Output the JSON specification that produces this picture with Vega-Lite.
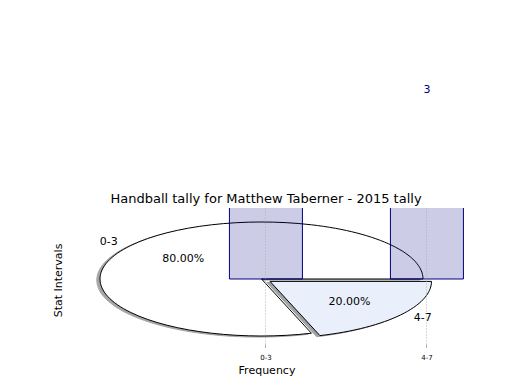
{
  "$schema": "https://vega.github.io/schema/vega-lite/v6.json",
  "width": 403,
  "height": 136,
  "autosize": {"type": "none"},
  "padding": {"left": 65, "top": 208, "right": 52, "bottom": 46},
  "background": "white",
  "config": {"view": {"stroke": null}, "font": "DejaVu Sans"},
  "datasets": {
    "tally": [
      {"interval": "0-3", "count": 12, "pct": "80.00%"},
      {"interval": "4-7", "count": 3, "pct": "20.00%"}
    ]
  },
  "data": {"name": "tally"},
  "layer": [
    {
      "encoding": {
        "x": {"datum": 0, "type": "quantitative", "scale": {"domain": [-1.2167, 1.2786], "nice": false, "zero": false}, "axis": null},
        "y": {"datum": 0, "type": "quantitative", "scale": {"domain": [-1.1404, 1.2456], "nice": false, "zero": false}, "axis": null}
      },
      "layer": [
        {
          "mark": {"type": "point", "filled": true, "size": 104329, "opacity": 0.5, "strokeWidth": 1, "xOffset": -3.2, "yOffset": 1.1},
          "encoding": {
            "shape": {"field": "interval", "type": "nominal", "legend": null, "scale": {"domain": ["0-3", "4-7"], "range": ["M0,0L1,0A1,0.35294,0,1,0,0.30902,0.33567Z", "M0.05263,0.01486L0.36165,0.35053A1,0.35294,0,0,0,1.05263,0.01486Z"]}},
            "fill": {"field": "interval", "type": "nominal", "legend": null, "scale": {"domain": ["0-3", "4-7"], "range": ["#4d4d4d", "#46484c"]}},
            "stroke": {"field": "interval", "type": "nominal", "legend": null, "scale": {"domain": ["0-3", "4-7"], "range": ["#4d4d4d", "#46484c"]}}
          }
        },
        {
          "mark": {"type": "point", "filled": true, "size": 104329, "opacity": 1, "stroke": "#000000", "strokeWidth": 1},
          "encoding": {
            "shape": {"field": "interval", "type": "nominal", "legend": null, "scale": {"domain": ["0-3", "4-7"], "range": ["M0,0L1,0A1,0.35294,0,1,0,0.30902,0.33567Z", "M0.05263,0.01486L0.36165,0.35053A1,0.35294,0,0,0,1.05263,0.01486Z"]}},
            "fill": {"field": "interval", "type": "nominal", "legend": null, "scale": {"domain": ["0-3", "4-7"], "range": ["#ffffff", "#eaf0fb"]}}
          }
        },
        {
          "transform": [{"filter": "datum.interval === '0-3'"}],
          "mark": {"type": "text", "fontSize": 11, "color": "#000000", "align": "right", "baseline": "middle"},
          "encoding": {"x": {"datum": -0.89, "type": "quantitative"}, "y": {"datum": 0.6466, "type": "quantitative"}, "text": {"field": "interval"}}
        },
        {
          "transform": [{"filter": "datum.interval === '0-3'"}],
          "mark": {"type": "text", "fontSize": 11, "color": "#000000", "align": "center", "baseline": "middle"},
          "encoding": {"x": {"datum": -0.4854, "type": "quantitative"}, "y": {"datum": 0.3527, "type": "quantitative"}, "text": {"field": "pct"}}
        },
        {
          "transform": [{"filter": "datum.interval === '4-7'"}],
          "mark": {"type": "text", "fontSize": 11, "color": "#000000", "align": "left", "baseline": "middle"},
          "encoding": {"x": {"datum": 0.9426, "type": "quantitative"}, "y": {"datum": -0.6887, "type": "quantitative"}, "text": {"field": "interval"}}
        },
        {
          "transform": [{"filter": "datum.interval === '4-7'"}],
          "mark": {"type": "text", "fontSize": 11, "color": "#000000", "align": "center", "baseline": "middle"},
          "encoding": {"x": {"datum": 0.545, "type": "quantitative"}, "y": {"datum": -0.3948, "type": "quantitative"}, "text": {"field": "pct"}}
        },
        {
          "data": {"values": [{"title": "Handball tally for Matthew Taberner - 2015 tally"}]},
          "mark": {"type": "text", "fontSize": 13, "color": "#000000", "align": "center", "baseline": "alphabetic"},
          "encoding": {"x": {"datum": 0.0279, "type": "quantitative"}, "y": {"datum": 1.3246, "type": "quantitative"}, "text": {"field": "title"}}
        }
      ],
      "resolve": {"scale": {"fill": "independent", "stroke": "independent"}}
    },
    {
      "encoding": {
        "x": {
          "field": "interval", "type": "nominal", "title": "Frequency",
          "scale": {"domain": ["0-3", "4-7"], "paddingInner": 0.5466, "paddingOuter": 0.5248, "align": 0.973},
          "axis": {"orient": "bottom", "grid": true, "gridColor": "#b0b0b0", "gridDash": [1, 2], "gridWidth": 1, "domain": false, "ticks": true, "tickColor": "#b0b0b0", "tickSize": 3.5, "labelFontSize": 7, "labelColor": "#000000", "labelAngle": 0, "labelPadding": 5.5, "titleFontSize": 11, "titleFontWeight": "normal", "titleColor": "#000000", "titlePadding": 4.5, "zindex": 1, "bandPosition": 0.5}
        },
        "y": {
          "field": "count", "type": "quantitative", "title": "Stat Intervals",
          "scale": {"domain": [-1.0604, 1.1582], "nice": false, "zero": false},
          "axis": {"orient": "left", "grid": false, "domain": false, "ticks": false, "labels": false, "titleFontSize": 11, "titleFontWeight": "normal", "titleColor": "#000000", "titlePadding": 2, "titleY": 72}
        }
      },
      "layer": [
        {
          "mark": {"type": "bar", "clip": true, "fill": "navy", "fillOpacity": 0.2, "stroke": "navy", "strokeWidth": 1},
          "encoding": {"y2": {"datum": 0}}
        },
        {
          "transform": [{"filter": "datum.count < 5"}],
          "mark": {"type": "text", "color": "navy", "fontSize": 11, "baseline": "alphabetic", "dy": -2},
          "encoding": {"text": {"field": "count", "type": "quantitative"}}
        }
      ]
    }
  ],
  "resolve": {"scale": {"x": "independent", "y": "independent"}}
}
